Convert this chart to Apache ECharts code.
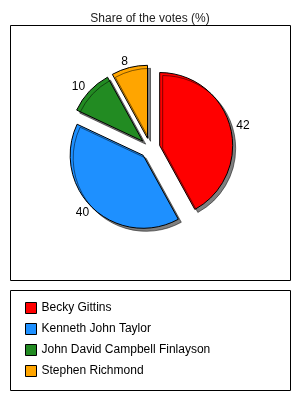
<!DOCTYPE html>
<html>
<head>
<meta charset="utf-8">
<script src="https://cdn.jsdelivr.net/npm/echarts@6/dist/echarts.min.js"></script>
<style>
  html, body { margin: 0; padding: 0; background: #fff; }
  #main { width: 300px; height: 400px; }
</style>
</head>
<body>
<div id="main"></div>
<script>
var chart = echarts.init(document.getElementById('main'));

var candidates = ['Becky Gittins', 'Kenneth John Taylor', 'John David Campbell Finlayson', 'Stephen Richmond'];
var shares = [42, 40, 10, 8];
var colors = ['#ff0000', '#1e90ff', '#228b22', '#ffa500'];

var pieData = candidates.map(function (name, i) {
    return { name: name, value: shares[i], selected: true, itemStyle: { color: colors[i] } };
});

var option = {
    animation: false,
    title: {
        text: 'Share of the votes (%)',
        left: 'center',
        top: 8,
        textStyle: { fontFamily: 'Liberation Sans', fontSize: 12, fontWeight: 'normal', color: '#222' }
    },
    legend: {
        orient: 'vertical',
        left: 20,
        top: 297,
        itemWidth: 11,
        itemHeight: 11,
        itemGap: 9,
        icon: 'rect',
        selectedMode: false,
        itemStyle: { borderColor: '#000', borderWidth: 1 },
        textStyle: { fontFamily: 'Liberation Sans', fontSize: 12, color: '#000' },
        data: candidates
    },
    graphic: [
        { type: 'rect', shape: { x: 10.5, y: 25.5, width: 280, height: 255 }, style: { fill: 'none', stroke: '#000', lineWidth: 1 }, z: -1 },
        { type: 'rect', shape: { x: 10.5, y: 290.5, width: 280, height: 100 }, style: { fill: 'none', stroke: '#000', lineWidth: 1 }, z: -1 }
    ],
    series: [{
        type: 'pie',
        center: [150, 148],
        radius: 73,
        startAngle: 90,
        clockwise: true,
        selectedMode: 'multiple',
        selectedOffset: 10,
        itemStyle: {
            borderColor: '#000',
            borderWidth: 1,
            shadowColor: 'rgba(0,0,0,0.5)',
            shadowOffsetX: 3,
            shadowOffsetY: 3,
            shadowBlur: 0
        },
        label: {
            show: true,
            position: 'outside',
            formatter: '{c}',
            distanceToLabelLine: 0,
            fontFamily: 'Liberation Sans',
            fontSize: 12,
            color: '#000'
        },
        labelLine: { show: false, length: 6, length2: 0 },
        emphasis: { disabled: true },
        data: pieData
    }]
};

chart.setOption(option);
</script>
</body>
</html>
